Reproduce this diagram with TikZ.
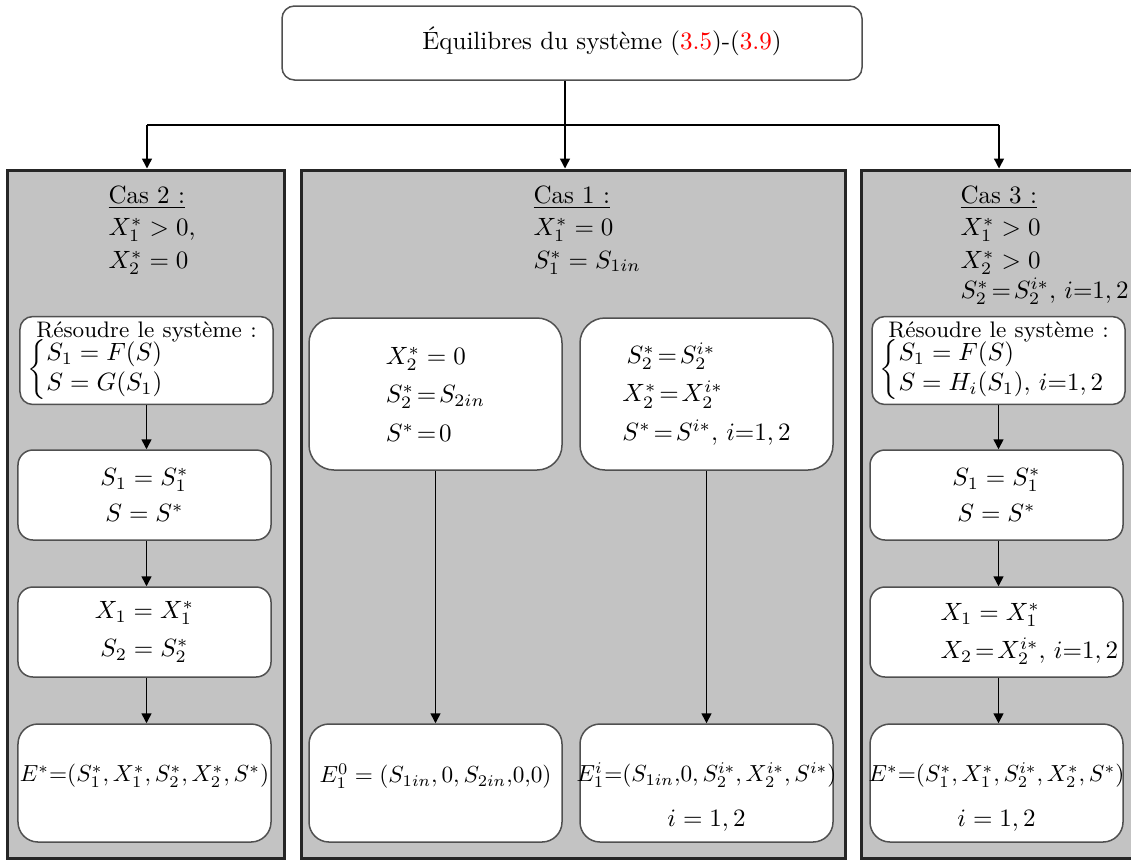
\documentclass[tikz,border=0pt]{standalone}
\usepackage{amsmath}
\usepackage{graphicx}
\usetikzlibrary{arrows.meta,calc}
\definecolor{panelgray}{RGB}{195,195,195}
\definecolor{boxline}{RGB}{80,80,80}
\newcommand{\shrinkit}[1]{\scalebox{0.93}{#1}}
\begin{document}
\begin{tikzpicture}[x=0.4pt,y=-0.4pt,
  panel/.style={draw=black!85, line width=1.2pt, fill=panelgray, inner sep=0pt},
  wbox/.style={draw=boxline, line width=0.6pt, fill=white, rounded corners=#1, inner sep=1pt, align=center, minimum width=101.2pt},
  wbox/.default=6pt,
  head/.style={anchor=north west, inner sep=0pt, align=left},
  txt/.style={inner sep=0pt, align=center},
  arr/.style={line width=0.6pt, -{Triangle[length=4pt,width=4pt]}},
  conn/.style={line width=0.6pt}]
\useasboundingbox (0,0) rectangle (1131,861);
\clip (0,0) rectangle (1131,861);

% panels
\node[panel, minimum width=110.4pt, minimum height=275.2pt] (p2) at (146,514) {};
\node[panel, minimum width=217.6pt, minimum height=275.2pt] (p1) at (573,514) {};
\node[panel, minimum width=112pt, minimum height=275.2pt] (p3) at (1001,514) {};

% top
\node[wbox=5pt, minimum width=232pt, minimum height=29.6pt] (top) at (572,43) {};
\node[txt] (title) at (602,41) {Équilibres du système (\textcolor{red}{3.5})-(\textcolor{red}{3.9})};

\coordinate (j) at (565,125);
\coordinate (jl) at (147,125);
\coordinate (jr) at (999,125);
\draw[conn] (top.south -| j) -- (j);
\draw[conn] (jl) -- (jr);
\draw[arr] (j) -- (p1.north -| j);
\draw[arr] (jl) -- (p2.north -| jl);
\draw[arr] (jr) -- (p3.north -| jr);

% headings
\node[head] (h2) at (108,185) {\underline{Cas 2 :}\\[1pt] $X_1^*>0$,\\[1pt] $X_2^*=0$};
\node[head] (h1) at (533,185) {\underline{Cas 1 :}\\[1pt] $X_1^*=0$\\[1pt] $S_1^*=S_{1in}$};
\node[head] (h3) at (960,185) {\underline{Cas 3 :}\\[1pt] $X_1^*>0$\\[1pt] $X_2^*>0$\\[0pt] $S_2^*\!=\!S_2^{i*},\,i{=}1,2$};

% left column
\node[wbox=5pt, minimum height=34pt, text width=97pt, align=left, inner sep=2pt] (l1) at (146.5,360.5)
  {\makebox[97pt]{\small Résoudre le système :}\\[-2pt]
   \hspace*{1pt}$\left\{\begin{array}{@{}l@{}}S_1=F(S)\\ S=G(S_1)\end{array}\right.$};
\node[wbox=6pt, minimum height=36pt] (l2) at (144.5,495) {$S_1=S_1^*$\\[2.4pt] $S=S^*$};
\node[wbox=6pt, minimum height=36pt] (l3) at (144.5,632) {$X_1=X_1^*$\\[3pt] $S_2=S_2^*$};
\node[wbox=8pt, minimum height=47.2pt] (l4) at (144.5,783) {};
\node[txt] (l4t) at (144.5,776) {\shrinkit{$E^*{=}(S_1^*,X_1^*,S_2^*,X_2^*,S^*)$}};

% middle column
\node[wbox=10pt, minimum height=60.8pt, align=left] (m1) at (435.5,394)
  {$X_2^*=0$\\[3.4pt] $S_2^*\!=\!S_{2in}$\\[3.4pt] $S^*\!=\!0$};
\node[wbox=10pt, minimum height=60.8pt, align=left] (m2) at (706.5,394)
  {\,$S_2^*\!=\!S_2^{i*}$\\[3.4pt] $X_2^*\!=\!X_2^{i*}$\\[3.4pt] $S^*\!=\!S^{i*},\,i{=}1,2$};
\node[wbox=8pt, minimum height=47.2pt] (m3) at (435.5,783) {};
\node[txt] (m3t) at (435.5,776) {\shrinkit{$E_1^0=(S_{1in},0,S_{2in}{,}0{,}0)$}};
\node[wbox=8pt, minimum height=47.2pt] (m4) at (706.5,783) {};
\node[txt] (m4t) at (706.5,797) {\shrinkit{$E_1^i{=}(S_{1in}{,}0,S_2^{i*},X_2^{i*},S^{i*})$}\\[6pt] $i=1,2$};

% right column
\node[wbox=5pt, minimum height=34pt, text width=97pt, align=left, inner sep=2pt] (r1) at (998.5,360.5)
  {\makebox[97pt]{\small Résoudre le système :}\\[-2pt]
   \hspace*{1pt}$\left\{\begin{array}{@{}l@{}}S_1=F(S)\\ S=H_i(S_1),\,i{=}1,2\end{array}\right.$};
\node[wbox=6pt, minimum height=36pt] (r2) at (996.5,495) {$S_1=S_1^*$\\[2.4pt] $S=S^*$};
\node[wbox=6pt, minimum height=36pt] (r3) at (996.5,632) {};
\node[txt, anchor=west, align=left] (r3t) at (940,634) {$X_1=X_1^*$\\[3pt] $X_2\!=\!X_2^{i*},\,i{=}1,2$};
\node[wbox=8pt, minimum height=47.2pt] (r4) at (996.5,783) {};
\node[txt] (r4t) at (996.5,797) {\shrinkit{$E^*{=}(S_1^*,X_1^*,S_2^{i*},X_2^*,S^*)$}\\[6pt] $i=1,2$};

% connectors
\draw[arr] (l1.south) -- (l1.south |- l2.north);
\draw[arr] (l2.south -| l1.south) -- (l1.south |- l3.north);
\draw[arr] (l3.south -| l1.south) -- (l1.south |- l4.north);
\draw[arr] (m1.south) -- (m1.south |- m3.north);
\draw[arr] (m2.south) -- (m2.south |- m4.north);
\draw[arr] (r1.south) -- (r1.south |- r2.north);
\draw[arr] (r2.south -| r1.south) -- (r1.south |- r3.north);
\draw[arr] (r3.south -| r1.south) -- (r1.south |- r4.north);
\end{tikzpicture}
\end{document}
